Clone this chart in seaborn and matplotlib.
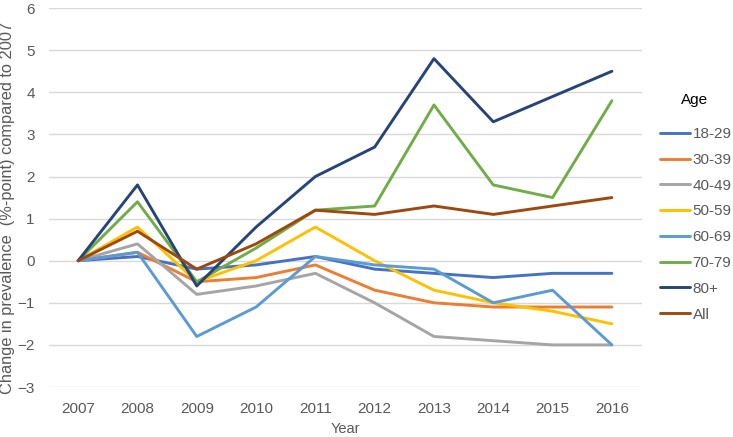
import matplotlib
matplotlib.use("Agg")
import matplotlib.pyplot as plt
import seaborn as sns
import pandas as pd

years = ["2007", "2008", "2009", "2010", "2011", "2012", "2013", "2014", "2015", "2016"]
groups = ["18-29", "30-39", "40-49", "50-59", "60-69", "70-79", "80+", "All"]
v_18_29 = [0, 0.1, -0.2, -0.1, 0.1, -0.2, -0.3, -0.4, -0.3, -0.3]
v_30_39 = [0, 0.2, -0.5, -0.4, -0.1, -0.7, -1.0, -1.1, -1.1, -1.1]
v_40_49 = [0, 0.4, -0.8, -0.6, -0.3, -1.0, -1.8, -1.9, -2.0, -2.0]
v_50_59 = [0, 0.8, -0.5, 0.0, 0.8, 0.0, -0.7, -1.0, -1.2, -1.5]
v_60_69 = [0, 0.2, -1.8, -1.1, 0.1, -0.1, -0.2, -1.0, -0.7, -2.0]
v_70_79 = [0, 1.4, -0.5, 0.3, 1.2, 1.3, 3.7, 1.8, 1.5, 3.8]
v_80p = [0, 1.8, -0.6, 0.8, 2.0, 2.7, 4.8, 3.3, 3.9, 4.5]
v_all = [0, 0.7, -0.2, 0.4, 1.2, 1.1, 1.3, 1.1, 1.3, 1.5]
series = [v_18_29, v_30_39, v_40_49, v_50_59, v_60_69, v_70_79, v_80p, v_all]
colors = ["#4472C4", "#ED7D31", "#A5A5A5", "#FFC000", "#5B9BD5", "#70AD47", "#264478", "#9E480E"]

rows = []
for g, vals in zip(groups, series):
    for y, v in zip(years, vals):
        rows.append({"Year": y, "Age": g, "Value": v})
df = pd.DataFrame(rows)

sns.set_theme(style="white")
plt.rcParams["font.family"] = ["Liberation Sans", "DejaVu Sans"]

fig = plt.figure(figsize=(7.33, 4.37), dpi=100)
ax = fig.add_axes([0.0662, 0.1144, 0.809, 0.867])

sns.lineplot(data=df, x="Year", y="Value", hue="Age", hue_order=groups,
             palette=colors, linewidth=2.1, ax=ax, sort=False)

ax.set_xlim(-0.5, 9.5)
ax.set_ylim(-3, 6)
ax.set_yticks(range(-3, 7))
ax.yaxis.grid(True, color="#D9D9D9", linewidth=1.0)
ax.xaxis.grid(False)
ax.set_axisbelow(True)
for s in ax.spines.values():
    s.set_visible(False)
ax.tick_params(axis="y", colors="#595959", labelsize=11, length=0, pad=10)
ax.tick_params(axis="x", colors="#595959", labelsize=11, length=0, pad=11)
ax.set_xlabel("Year", color="#595959", fontsize=10.5)
ax.xaxis.set_label_coords(0.5, -0.092)
ax.set_ylabel("Change in prevalence  (%-point) compared to 2007", color="#595959", fontsize=11.8)
ax.yaxis.set_label_coords(-0.057, 0.472)

handles, labels = ax.get_legend_handles_labels()
ax.legend_.remove()
fig.text(695 / 733, 1 - 100 / 437, "Age", ha="center", va="center", fontsize=11, color="#000000")
leg = fig.legend(handles, labels, loc="upper left", bbox_to_anchor=(0.900, 0.709),
                 frameon=False, fontsize=11, handlelength=2.0,
                 handletextpad=0.15, labelspacing=0.77, borderpad=0, borderaxespad=0)
for t in leg.get_texts():
    t.set_color("#595959")

fig.savefig("out.png", dpi=100)
